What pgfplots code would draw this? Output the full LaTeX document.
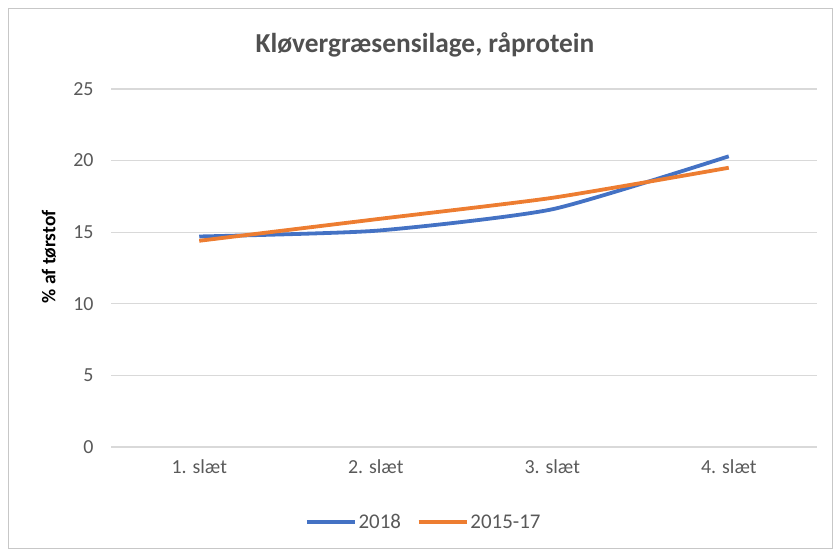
\documentclass[border=0pt]{standalone}
\usepackage{fontspec}
\setmainfont{Carlito}
\usepackage{pgfplots}
\pgfplotsset{compat=1.18}

\definecolor{xlblue}{HTML}{4472C4}
\definecolor{xlorange}{HTML}{ED7D31}
\definecolor{xlgrid}{HTML}{D9D9D9}
\definecolor{xltext}{HTML}{595959}

\begin{document}
\begin{tikzpicture}[x=1bp,y=1bp]
  % chart frame, 833 x 550 px
  \path[use as bounding box] (0,0) rectangle (833,550);
  \draw[xlgrid!80!gray, line width=1bp] (8,1) rectangle (832.5,541);

  \begin{axis}[
    at={(111bp,103bp)}, anchor=south west,
    scale only axis, width=706bp, height=358bp,
    xmin=0.5, xmax=4.5, ymin=0, ymax=25,
    xtick={1,2,3,4},
    xticklabels={1. slæt, 2. slæt, 3. slæt, 4. slæt},
    ytick={0,5,...,25},
    ymajorgrids, grid style={xlgrid, line width=1.2bp},
    axis x line*=bottom, axis y line*=left,
    x axis line style={xlgrid, line width=1.2bp, -},
    y axis line style={draw=none},
    major tick length=0pt,
    ticklabel style={font=\fontsize{20}{24}\selectfont, text=xltext},
    /pgf/number format/assume math mode=true,
    yticklabel style={xshift=-14bp},
    xticklabel style={yshift=-9bp},
    ylabel={\textbf{\% af tørstof}},
    every axis y label/.style={at={(axis description cs:-0.088,0.531)}, rotate=90,
      anchor=center, font=\fontsize{19.5}{22}\selectfont, text=black},
    title={Kløvergræsensilage, råprotein},
    title style={font=\bfseries\fontsize{27.5}{32}\selectfont, text=xltext!90!black,
      yshift=22bp, xshift=-39bp},
    legend style={at={(0.443,-0.21)}, anchor=center, draw=none,
      font=\fontsize{21}{24}\selectfont, text=xltext,
      legend columns=2, /tikz/every even column/.append style={column sep=14bp}},
    legend image code/.code={\draw[#1, line width=3.5bp] (0bp,0bp) -- (48bp,0bp);},
  ]
    \addplot[xlblue, line width=3.8bp, smooth, tension=0.35] coordinates {
      (1,14.7) (2,15.1) (3,16.6) (4,20.3)};
    \addlegendentry{2018}
    \addplot[xlorange, line width=3.8bp, smooth, tension=0.35] coordinates {
      (1,14.4) (2,15.9) (3,17.4) (4,19.5)};
    \addlegendentry{2015-17}
  \end{axis}
\end{tikzpicture}
\end{document}
